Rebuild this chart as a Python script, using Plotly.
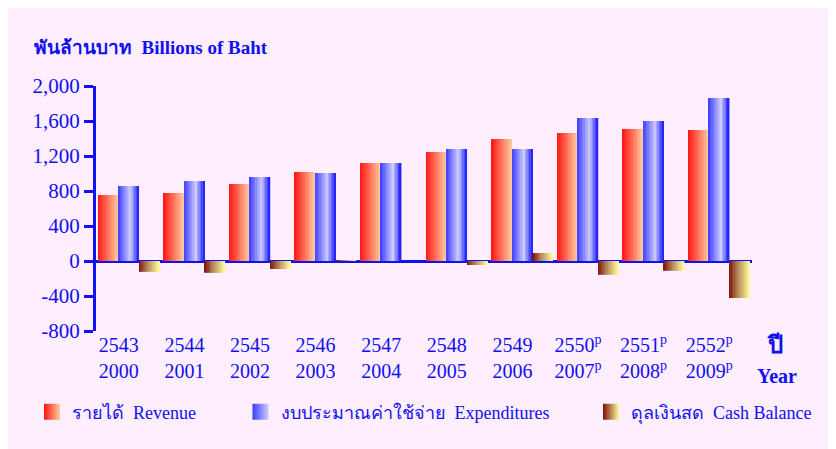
import plotly.graph_objects as go

# ---------------- data ----------------
years_be = ["2543", "2544", "2545", "2546", "2547", "2548", "2549", "2550", "2551", "2552"]
years_ad = ["2000", "2001", "2002", "2003", "2004", "2005", "2006", "2007", "2008", "2009"]
prelim = [False, False, False, False, False, False, False, True, True, True]
revenue = [754, 777, 880, 1017, 1120, 1246, 1394, 1463, 1509, 1497]
expenditures = [857, 914, 960, 1006, 1120, 1280, 1280, 1634, 1600, 1863]
cash_balance = [-122, -134, -91, 10, 0, -45, 91, -157, -111, -423]
y_ticks = [-800, -400, 0, 400, 800, 1200, 1600, 2000]
y_ticktext = ["-800", "-400", "0", "400", "800", "1,200", "1,600", "2,000"]

BLUE = "#1010F0"
FONT = "Liberation Serif, Times New Roman, serif"
idx = list(range(len(years_be)))

# page body margin offset (the figure div starts at 8,8 in the page)
OFF = 8
PL, PT, PW, PH = 96 - OFF, 86 - OFF, 656, 245  # plot area in figure px

def px(x):
    return (x - OFF - PL) / PW

def py(y):
    return (PT + PH - (y - OFF)) / PH

def lerp(c1, c2, t):
    return tuple(round(a + (b - a) * t) for a, b in zip(c1, c2))

def grad(stops, t):
    for (t0, c0), (t1, c1) in zip(stops, stops[1:]):
        if t <= t1:
            return lerp(c0, c1, (t - t0) / (t1 - t0) if t1 > t0 else 0)
    return stops[-1][1]

rev_stops = [(0, (255, 20, 20)), (1, (255, 205, 160))]
exp_stops = [(0, (60, 60, 255)), (0.6, (205, 205, 255)), (0.9, (70, 70, 255)), (1, (20, 20, 240))]
cash_stops = [(0, (125, 15, 10)), (0.45, (185, 140, 90)), (1, (255, 255, 160))]

series = [
    ("รายได้  Revenue", revenue, rev_stops, "legend"),
    ("งบประมาณค่าใช้จ่าย  Expenditures", expenditures, exp_stops, "legend2"),
    ("ดุลเงินสด  Cash Balance", cash_balance, cash_stops, "legend3"),
]

fig = go.Figure()
N = 14
group_w = 0.9375
bar_w = group_w / 3
start = -group_w / 2
for s, (name, vals, stops, lg) in enumerate(series):
    for k in range(N):
        c = grad(stops, (k + 0.5) / N)
        fig.add_trace(go.Bar(
            x=idx, y=vals,
            width=[bar_w / N * 1.25] * len(idx) if k < N - 1 else [bar_w / N] * len(idx),
            offset=start + s * bar_w + k * bar_w / N,
            marker=dict(color="rgb(%d,%d,%d)" % c, line=dict(width=0)),
            showlegend=False, hoverinfo="skip",
        ))
    c0 = grad(stops, 0.0)
    c1 = grad(stops, 0.6 if s == 1 else 1.0)
    fig.add_trace(go.Scatter(
        x=[None], y=[None], mode="markers", name=name, legend=lg,
        marker=dict(symbol="square", size=16, color="rgb(%d,%d,%d)" % c0,
                    gradient=dict(type="horizontal", color="rgb(%d,%d,%d)" % c1),
                    line=dict(width=0)),
    ))

def tick_label(be, ad, p):
    if p:
        return f"{be}<sup>p</sup><br>{ad}<sup>p</sup>"
    return f"{be}<br>{ad}"

ticktext = [tick_label(a, b, p) for a, b, p in zip(years_be, years_ad, prelim)]

legend_common = dict(orientation="h", yanchor="middle", y=py(412), xanchor="left",
                     bgcolor="rgba(0,0,0,0)", font=dict(family=FONT, size=18, color=BLUE),
                     itemclick=False, itemdoubleclick=False)

def legend_x(swatch_center):
    return (swatch_center - OFF - PL - 20) / PW

fig.update_layout(
    width=836, height=449,
    margin=dict(l=PL, r=836 - PL - PW, t=PT, b=449 - PT - PH, autoexpand=False),
    paper_bgcolor="#FEEEFE",
    plot_bgcolor="rgba(0,0,0,0)",
    barmode="overlay",
    font=dict(family=FONT, color=BLUE),
    xaxis=dict(range=[-0.5, 9.5], tickvals=idx, ticktext=ticktext, showgrid=False,
               zeroline=False, showline=False, ticks="", ticklabelshift=-10,
               tickfont=dict(family=FONT, size=20, color=BLUE), fixedrange=True),
    yaxis=dict(range=[-800, 2000], tickvals=y_ticks, ticktext=y_ticktext, showgrid=False,
               showline=True, linecolor=BLUE, linewidth=3, ticks="outside", ticklen=9,
               tickwidth=3, tickcolor=BLUE, zeroline=True, zerolinecolor=BLUE,
               zerolinewidth=3, tickfont=dict(family=FONT, size=21, color=BLUE),
               fixedrange=True),
    legend=dict(x=legend_x(52), **legend_common),
    legend2=dict(x=legend_x(260.5), **legend_common),
    legend3=dict(x=legend_x(611), **legend_common),
    annotations=[
        dict(text="<b>พันล้านบาท  Billions of Baht</b>", xref="paper", yref="paper",
             x=px(32), y=py(47), xanchor="left", yanchor="middle",
             showarrow=False, font=dict(family=FONT, size=19, color=BLUE)),
        dict(text="<b>ปี</b>", xref="paper", yref="paper",
             x=px(775), y=py(345), xanchor="center", yanchor="middle",
             showarrow=False, font=dict(family=FONT, size=24, color=BLUE)),
        dict(text="<b>Year</b>", xref="paper", yref="paper",
             x=px(777), y=py(376), xanchor="center", yanchor="middle",
             showarrow=False, font=dict(family=FONT, size=20, color=BLUE)),
    ],
)

fig.write_html("out.html")
